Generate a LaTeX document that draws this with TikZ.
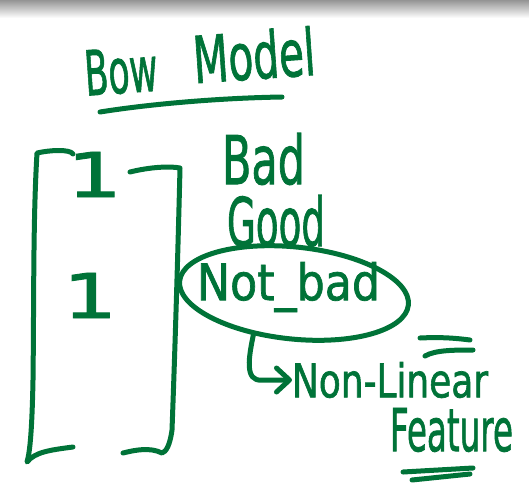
\documentclass[tikz,border=0pt]{standalone}
\usepackage{fontspec}
\setmainfont{DejaVu Sans}
\newfontfamily\penfont[FakeBold=1.5]{DejaVu Sans}
\usetikzlibrary{shapes.geometric,arrows.meta}
\definecolor{ink}{RGB}{0,115,56}
% set a word so that its box is exactly #1 wide and #2 tall (depth included)
\newcommand{\fitword}[3]{\resizebox*{#1}{#2}{\penfont #3}}

\begin{document}
\begin{tikzpicture}[x=1pt,y=-1pt,
  pen/.style={draw=ink,line width=5pt,line cap=round,line join=round},
  word/.style={inner sep=0pt,outer sep=0pt,text=ink}]
\useasboundingbox (0,0) rectangle (529,482);
\fill[white] (0,0) rectangle (529,482);
% shadow strip along the top edge
\shade[top color=black!42,bottom color=white] (0,0) rectangle (529,18);

% title and its underline
\node[word,rotate=4] (bow) at (121,71) {\fitword{73pt}{46pt}{Bow}};
\node[word,rotate=4] (model) at (254,55) {\fitword{122pt}{50pt}{Model}};
\draw[pen] (100,112) .. controls (150,104) and (220,98) .. (282,97);

% the column vector
\draw[pen] (73,154) .. controls (70,149) and (50,150) .. (37,153)
  .. controls (33,220) and (34,300) .. (33,380)
  .. controls (32,430) and (30,452) .. (27,462)
  .. controls (35,452) and (50,450) .. (73,447);
\draw[pen] (130,172) .. controls (150,167) and (170,166) .. (180,168)
  .. controls (178,250) and (175,350) .. (172,430)
  .. controls (170,445) and (166,452) .. (162,453)
  .. controls (150,447) and (135,450) .. (123,453);
\node[word] (one1) at (94.5,174.5) {\fitword{55pt}{45pt}{1}};
\node[word] (one2) at (90,295.5) {\fitword{54pt}{45pt}{1}};

% vocabulary
\node[word] (bad) at (263.5,159) {\fitword{83pt}{52pt}{Bad}};
\node[word] (good) at (276,221) {\fitword{98pt}{52pt}{Good}};
\node[word] (notbad) at (288.5,287) {\fitword{183pt}{50pt}{Not\_bad}};
\node[pen,ellipse,rotate=-6,minimum width=230pt,minimum height=92pt,inner sep=0pt] (oval) at (294,293) {};

% the note on the circled word
\node[word] (nl) at (390,380) {\fitword{196pt}{36pt}{Non-Linear}};
\node[word] (feat) at (451.5,430) {\fitword{123pt}{44pt}{Feature}};
\draw[pen,-{Straight Barb[round,length=13pt,width=24pt]}] (oval.232)
  .. controls (249,356) and (244,382) .. (262,380) -- (nl.west);
\draw[pen] (420,338) .. controls (440,337) and (455,338) .. (470,340);
\draw[pen] (425,356) .. controls (435,350) and (455,350) .. (473,350);
\draw[pen] (403,472) -- (473,468);
\draw[pen] (412,480) -- (470,474);
\end{tikzpicture}
\end{document}
